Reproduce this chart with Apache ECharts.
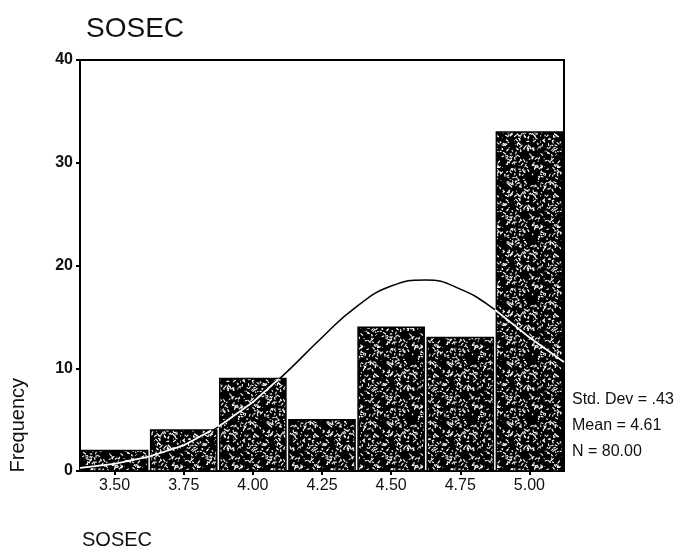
<!DOCTYPE html>
<html>
<head>
    <meta charset="utf-8">
    <script src="https://cdn.jsdelivr.net/npm/echarts@6/dist/echarts.min.js"></script>
</head>
<body style="margin:0;background:#fff">
<div id="main" style="width: 680px;height:554px;"></div>
<script type="text/javascript">
    // histogram bins (centres) and counts
    const binCenters = [3.50, 3.75, 4.00, 4.25, 4.50, 4.75, 5.00];
    const counts = [2, 4, 9, 5, 14, 13, 33];
    const binWidth = 0.25;
    // normal curve
    const curveX = [3.375, 3.5, 3.625, 3.75, 3.875, 4.0, 4.125, 4.25, 4.375, 4.5, 4.625, 4.75, 4.875, 5.0, 5.125];
    const curveY = [0.3, 0.7, 1.4, 2.5, 4.3, 6.7, 9.7, 13.0, 16.0, 18.0, 18.6, 17.7, 15.7, 13.0, 10.6];
    const xTicks = [3.50, 3.75, 4.00, 4.25, 4.50, 4.75, 5.00];
    const statsLines = ['Std. Dev = .43', 'Mean = 4.61', 'N = 80.00'];

    // speckled texture like the scanned bars
    function makePattern() {
        const c = document.createElement('canvas');
        c.width = 60; c.height = 60;
        const g = c.getContext('2d');
        g.fillStyle = '#000';
        g.fillRect(0, 0, 60, 60);
        g.strokeStyle = '#fff';
        g.lineWidth = 1.1;
        let s = 12345;
        const rnd = () => { s = (s * 1103515245 + 12345) % 2147483648; return s / 2147483648; };
        for (let i = 0; i < 320; i++) {
            const x = rnd() * 60, y = rnd() * 60;
            g.beginPath();
            g.moveTo(x, y);
            g.lineTo(x + (rnd() - 0.5) * 6, y + (rnd() - 0.5) * 6);
            g.stroke();
        }
        return c;
    }
    const pattern = makePattern();

    // curve value between read points
    function curveAt(x) {
        for (let i = 0; i < curveX.length - 1; i++) {
            if (x >= curveX[i] && x <= curveX[i + 1]) {
                const t = (x - curveX[i]) / (curveX[i + 1] - curveX[i]);
                return curveY[i] + t * (curveY[i + 1] - curveY[i]);
            }
        }
        return curveY[curveY.length - 1];
    }

    const myChart = echarts.init(document.getElementById('main'));
    const font = 'Liberation Sans, Arial, sans-serif';

    const option = {
        animation: false,
        backgroundColor: '#fff',
        title: {
            text: 'SOSEC',
            left: 81,
            top: 10,
            textStyle: {fontSize: 28, fontWeight: 'normal', color: '#111', fontFamily: font}
        },
        grid: {
            left: 80, right: 116, top: 60, bottom: 83,
            show: true, borderColor: '#000', borderWidth: 2
        },
        xAxis: {
            type: 'value',
            min: 3.375,
            max: 5.125,
            splitLine: {show: false},
            axisLine: {lineStyle: {color: '#000', width: 2}},
            axisTick: {customValues: xTicks, length: 4, lineStyle: {color: '#000', width: 2}},
            axisLabel: {
                customValues: xTicks,
                formatter: v => v.toFixed(2),
                fontSize: 16, color: '#111', fontFamily: font, margin: 7
            }
        },
        yAxis: {
            type: 'value',
            min: 0,
            max: 40,
            interval: 10,
            splitLine: {show: false},
            axisLine: {show: true, lineStyle: {color: '#000', width: 2}},
            axisTick: {show: true, length: 4, lineStyle: {color: '#000', width: 2}},
            axisLabel: {fontSize: 16, fontWeight: 'bold', color: '#111', fontFamily: font, margin: 7}
        },
        graphic: [
            {
                type: 'text', left: 8, top: 378, rotation: Math.PI / 2,
                style: {text: 'Frequency', fontSize: 20, fill: '#111', fontFamily: font}
            },
            {
                type: 'text', left: 82, top: 530,
                style: {text: 'SOSEC', fontSize: 20, fill: '#111', fontFamily: font}
            },
            {
                type: 'text', left: 572, top: 387,
                style: {text: statsLines.join('\n'), fontSize: 16, lineHeight: 26, fill: '#111', fontFamily: font}
            }
        ],
        series: [
            {
                type: 'line',
                data: curveX.map((x, i) => [x, curveY[i]]),
                smooth: true,
                symbol: 'none',
                lineStyle: {color: '#000', width: 1.5},
                z: 1
            },
            {
                type: 'custom',
                data: binCenters.map((c, i) => [c, counts[i]]),
                renderItem: function (params, api) {
                    const c = api.value(0), n = api.value(1);
                    const lo = c - binWidth / 2, hi = c + binWidth / 2;
                    const p0 = api.coord([lo, n]);
                    const p1 = api.coord([hi, 0]);
                    // part of the curve that runs inside this bar shows white
                    const pts = [];
                    for (let k = 0; k <= 40; k++) {
                        const x = lo + (hi - lo) * k / 40;
                        const y = curveAt(x);
                        if (y <= n) pts.push(api.coord([x, y]));
                    }
                    const children = [{
                        type: 'rect',
                        shape: {x: p0[0] + 1.5, y: p0[1], width: p1[0] - p0[0] - 3, height: p1[1] - p0[1]},
                        style: {fill: {image: pattern, repeat: 'repeat'}, stroke: '#000', lineWidth: 1.5}
                    }];
                    if (pts.length > 1) {
                        children.push({
                            type: 'polyline',
                            shape: {points: pts, smooth: 0.3},
                            style: {stroke: '#fff', lineWidth: 1.8, fill: null}
                        });
                    }
                    return {type: 'group', children: children};
                },
                z: 2
            }
        ]
    };

    myChart.setOption(option);
</script>
</body>
</html>
